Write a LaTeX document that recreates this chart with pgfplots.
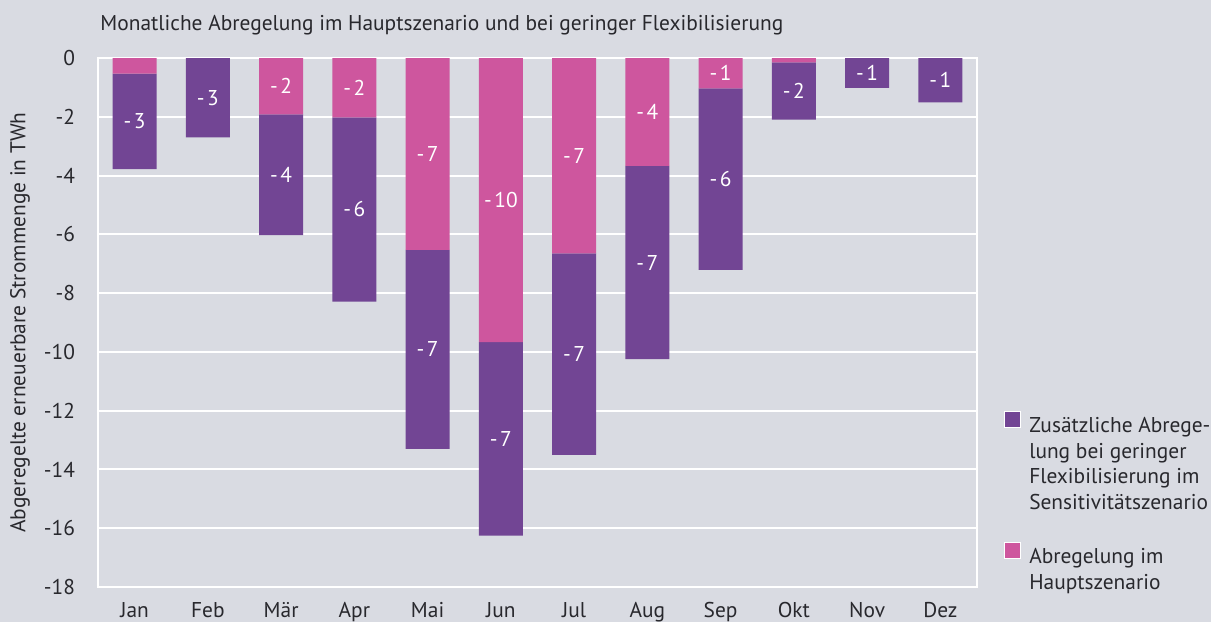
\documentclass[border=0pt]{standalone}
\usepackage{pgfplots}
\pgfplotsset{compat=1.18}
\usepackage{fontspec}
\setmainfont{PT Sans}
\definecolor{bg}{RGB}{217,219,226}
\definecolor{lila}{RGB}{114,69,148}
\definecolor{pinkc}{RGB}{206,86,158}
\definecolor{txt}{RGB}{40,40,45}
\newcommand\nolab{}
\newcommand\lab[1]{-\kern1.3pt#1}
\newcommand\fs{\fontsize{10.7}{12.75}\selectfont}
\begin{document}
\begin{tikzpicture}[font=\fs]
\fill[bg] (-49pt,-17.5pt) rectangle (556.5pt,293.5pt);
\begin{axis}[
  at={(0,0)}, anchor=south west,
  scale only axis, width=439.5pt, height=264.5pt,
  ybar stacked, bar width=0.6,
  xmin=-0.5, xmax=11.5, ymin=-18, ymax=0,
  xtick={0,...,11},
  xticklabels={Jan,Feb,Mär,Apr,Mai,Jun,Jul,Aug,Sep,Okt,Nov,Dez},
  ytick={-18,-16,...,0},
  /pgf/number format/assume math mode=true,
  major tick length=0pt,
  axis line style={white, line width=1pt},
  ymajorgrids, grid style={white, line width=1pt},
  tick label style={text=txt, font=\fs},
  xticklabel style={yshift=-4pt},
  yticklabel style={xshift=-8pt},
  title={Monatliche Abregelung im Hauptszenario und bei geringer Flexibilisierung},
  title style={at={(0,1)}, anchor=base west, yshift=7.5pt, xshift=1pt, inner sep=0pt, text=txt},
  ylabel={Abgeregelte erneuerbare Strommenge in TWh},
  ylabel style={at={(axis description cs:-0.0887,0.5)}, anchor=center, text=txt},
  point meta=explicit symbolic,
  nodes near coords,
  nodes near coords style={anchor=center, text=white, font=\fs},
  legend style={at={(1.031,0.333)}, anchor=north west, draw=none, fill=none,
     inner sep=0pt, outer sep=0pt, row sep=53pt,
     nodes={inner sep=0pt, text=txt}, cells={anchor=west},
     /tikz/every odd column/.append style={column sep=4pt}},
  legend image code/.code={\filldraw[#1, draw=white, line width=0.5pt] (0pt,-0.3pt) rectangle (8pt,7.7pt);},
  reverse legend,
]
\addplot[fill=pinkc, draw=none] coordinates {
 (0,-0.53) [\nolab] (1,0) [\nolab] (2,-1.92) [\lab{2}] (3,-2.02) [\lab{2}]
 (4,-6.53) [\lab{7}] (5,-9.67) [\lab{10}] (6,-6.65) [\lab{7}] (7,-3.67) [\lab{4}]
 (8,-1.03) [\lab{1}] (9,-0.15) [\nolab] (10,0) [\nolab] (11,0) [\nolab]
};
\addlegendentry{\parbox[t]{110pt}{\fs\raggedright Abregelung im\\Hauptszenario}}
\addplot[fill=lila, draw=none] coordinates {
 (0,-3.25) [\lab{3}] (1,-2.70) [\lab{3}] (2,-4.11) [\lab{4}] (3,-6.27) [\lab{6}]
 (4,-6.77) [\lab{7}] (5,-6.58) [\lab{7}] (6,-6.85) [\lab{7}] (7,-6.58) [\lab{7}]
 (8,-6.18) [\lab{6}] (9,-1.95) [\lab{2}] (10,-1.02) [\lab{1}] (11,-1.51) [\lab{1}]
};
\addlegendentry{\parbox[t]{110pt}{\fs\raggedright Zusätzliche Abrege-\\lung bei geringer\\Flexibilisierung im\\Sensitivitätszenario}}
\end{axis}
\pgfresetboundingbox
\useasboundingbox (-49pt,-17.5pt) rectangle (556.5pt,293.5pt);
\end{tikzpicture}
\end{document}
